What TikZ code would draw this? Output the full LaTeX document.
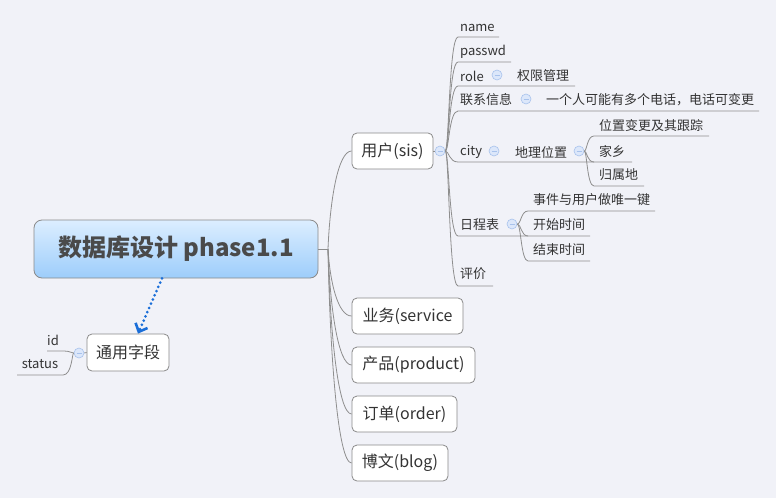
\documentclass[tikz,border=0pt]{standalone}
\usepackage{fontspec}
\setmainfont{Noto Sans CJK SC}
\usetikzlibrary{arrows.meta}
\definecolor{bg}{HTML}{F1F2F8}
\definecolor{linec}{HTML}{8E8E8E}
\definecolor{boxline}{HTML}{8A8A8A}
\definecolor{txt}{HTML}{333333}
\definecolor{roottxt}{HTML}{4A4A4A}
\definecolor{knobfill}{HTML}{DCE7FA}
\definecolor{knobline}{HTML}{A8C2EC}
\definecolor{rootTop}{HTML}{DCEEFF}
\definecolor{rootBot}{HTML}{9DCDFB}
\definecolor{arrowc}{HTML}{1A6ED8}
\tikzset{
  conn/.style={draw=linec, line width=0.8pt},
  lbl/.style={anchor=west, inner sep=0pt, yshift=-1pt, text=txt, font=\fontsize{13}{13}\selectfont},
  mbox/.style={draw=boxline, fill=white, rounded corners=5pt, line width=0.8pt, minimum height=36pt, inner sep=0pt, text=txt, font=\fontsize{16}{16}\selectfont},
  rootbox/.style={draw=boxline, rounded corners=8pt, line width=0.8pt, top color=rootTop, bottom color=rootBot, minimum width=284pt, minimum height=58pt, inner sep=0pt, text=roottxt, font=\fontsize{24}{24}\selectfont\bfseries},
  knob/.style={circle, minimum size=10pt, inner sep=0pt, draw=knobline, fill=knobfill, line width=0.6pt,
    path picture={\draw[knobline, line width=0.8pt] ([xshift=-2.5pt]path picture bounding box.center) -- ([xshift=2.5pt]path picture bounding box.center);}},
  dotarrow/.style={draw=arrowc, line width=3pt, line cap=round, dash pattern=on 0pt off 4.6pt, -{Straight Barb[length=7pt,width=13pt,line width=2.6pt]}}
}
\begin{document}
\begin{tikzpicture}[x=1pt,y=-1pt]
\useasboundingbox[fill=bg] (0,0) rectangle (776,498);

% root and main branches
\node[rootbox] (root) at (176,249) {数据库设计 phase1.1};
\node[mbox, minimum width=81pt] (user) at (392.5,151) {用户(sis)};
\node[mbox, minimum width=111pt] (service) at (407.5,316) {业务(service};
\node[mbox, minimum width=123pt] (product) at (413.5,365) {产品(product)};
\node[mbox, minimum width=105pt] (order) at (404.5,414) {订单(order)};
\node[mbox, minimum width=96pt] (blog) at (400,463) {博文(blog)};
\node[mbox, minimum width=82pt, minimum height=37pt] (common) at (128,352.5) {通用字段};

\coordinate (rj) at (328,249);
\draw[conn] (root.east) -- (rj);
\draw[conn] (rj) .. controls (330,200) and (338,151) .. (user.west);
\draw[conn] (rj) .. controls (330,282.5) and (338,316) .. (service.west);
\draw[conn] (rj) .. controls (330,307) and (338,365) .. (product.west);
\draw[conn] (rj) .. controls (330,331.5) and (338,414) .. (order.west);
\draw[conn] (rj) .. controls (330,356) and (338,463) .. (blog.west);

% user subtree
\node[knob] (kU) at (440,151) {};
\draw[conn] (user.east) -- (kU.west);

\node[lbl] (nName) at (460,27) {name};
\node[lbl] (nPass) at (460,51) {passwd};
\node[lbl] (nRole) at (460,75) {role};
\node[knob] (kRole) at (497,75) {};
\node[lbl] (nPerm) at (517,75) {权限管理};
\node[lbl] (nContact) at (460,99) {联系信息};
\node[knob] (kContact) at (526,99) {};
\node[lbl] (nPhone) at (546,99) {一个人可能有多个电话，电话可变更};
\node[lbl] (nCity) at (460,151) {city};
\node[knob] (kCity) at (494,151) {};
\node[lbl] (nGeo) at (515,151) {地理位置};
\node[knob] (kGeo) at (579,151) {};
\node[lbl] (nTrack) at (599,125) {位置变更及其跟踪};
\node[lbl] (nHome) at (599,150) {家乡};
\node[lbl] (nOrigin) at (599,174) {归属地};
\node[lbl] (nSched) at (460,224) {日程表};
\node[knob] (kSched) at (512,224) {};
\node[lbl] (nEvent) at (533,199) {事件与用户做唯一键};
\node[lbl] (nStart) at (533,224) {开始时间};
\node[lbl] (nEnd) at (533,249) {结束时间};
\node[lbl] (nRate) at (460,273) {评价};

\coordinate (uA) at (458,37);  \coordinate (uAe) at (499,37);
\coordinate (uB) at (458,62);  \coordinate (uBe) at (511,62);
\coordinate (uC) at (458,86);  \coordinate (uCe) at (575,86);
\coordinate (uD) at (458,111); \coordinate (uDe) at (759,111);
\coordinate (uE) at (458,162); \coordinate (uEe) at (594,162);
\coordinate (uF) at (458,236); \coordinate (uFe) at (528,236);
\coordinate (uG) at (458,286); \coordinate (uGe) at (493,286);

\draw[conn] (kU.east) .. controls (449,151) and (449,37) .. (uA) -- (uAe);
\draw[conn] (kU.east) .. controls (449,151) and (449,62) .. (uB) -- (uBe);
\draw[conn] (kU.east) .. controls (449,151) and (449,86) .. (uC) -- (uCe);
\draw[conn] (kU.east) .. controls (449,151) and (449,111) .. (uD) -- (uDe);
\draw[conn] (kU.east) .. controls (449,151) and (449,162) .. (uE) -- (uEe);
\draw[conn] (kU.east) .. controls (449,151) and (449,236) .. (uF) -- (uFe);
\draw[conn] (kU.east) .. controls (449,151) and (449,286) .. (uG) -- (uGe);

% geo subtree
\coordinate (gA) at (594,136); \coordinate (gAe) at (709,136);
\coordinate (gB) at (594,162); \coordinate (gBe) at (632,162);
\coordinate (gC) at (594,186); \coordinate (gCe) at (644,186);
\draw[conn] (kGeo.east) .. controls (587,151) and (587,136) .. (gA) -- (gAe);
\draw[conn] (kGeo.east) .. controls (587,151) and (587,162) .. (gB) -- (gBe);
\draw[conn] (kGeo.east) .. controls (587,151) and (587,186) .. (gC) -- (gCe);

% schedule subtree
\coordinate (sA) at (528,211); \coordinate (sAe) at (655,211);
\coordinate (sB) at (528,236); \coordinate (sBe) at (590,236);
\coordinate (sC) at (528,261); \coordinate (sCe) at (590,261);
\draw[conn] (kSched.east) .. controls (521,224) and (521,211) .. (sA) -- (sAe);
\draw[conn] (kSched.east) .. controls (521,224) and (521,236) .. (sB) -- (sBe);
\draw[conn] (kSched.east) .. controls (521,224) and (521,261) .. (sC) -- (sCe);

% common fields subtree
\node[knob] (kL) at (79,353) {};
\draw[conn] (common.west) -- (kL.east);
\node[lbl, anchor=center] (nId) at (53,339) {id};
\node[lbl, anchor=center] (nStatus) at (40,363) {status};
\coordinate (iS) at (64,351); \coordinate (iE) at (47,351);
\coordinate (tS) at (63,375); \coordinate (tE) at (17,375);
\draw[conn] (kL.west) .. controls (71,353) and (70,351) .. (iS) -- (iE);
\draw[conn] (kL.west) .. controls (72,353) and (72,375) .. (tS) -- (tE);

% dotted relation
\draw[dotarrow] ([xshift=-14pt]root.south) -- ([xshift=10pt]common.north);
\end{tikzpicture}
\end{document}
